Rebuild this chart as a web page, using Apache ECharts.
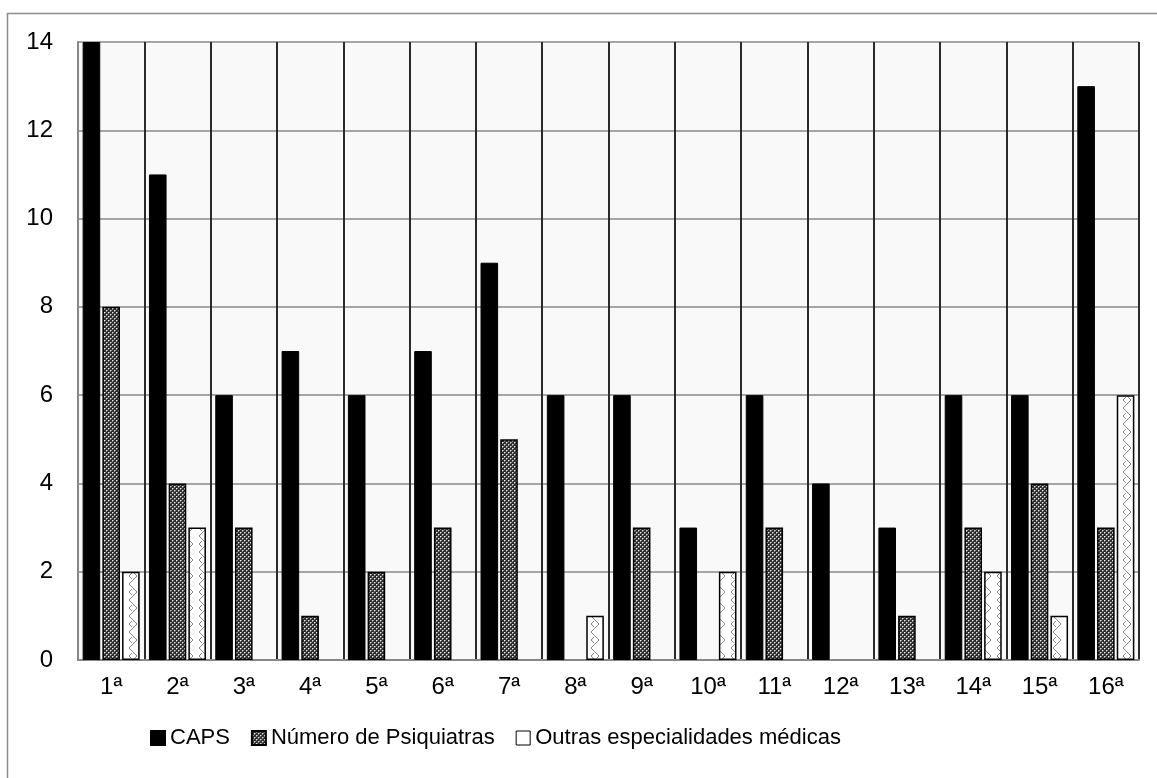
<!DOCTYPE html>
<html>
<head>
<meta charset="utf-8">
<script src="https://cdn.jsdelivr.net/npm/echarts@6/dist/echarts.min.js"></script>
<style>
html,body{margin:0;padding:0;background:#fff;}
#chart{width:1157px;height:778px;}
</style>
</head>
<body>
<div id="chart"></div>
<script>
const categories = ['1ª','2ª','3ª','4ª','5ª','6ª','7ª','8ª','9ª','10ª','11ª','12ª','13ª','14ª','15ª','16ª'];
const seriesNames = ['CAPS','Número de Psiquiatras','Outras especialidades médicas'];
const caps = [14, 11, 6, 7, 6, 7, 9, 6, 6, 3, 6, 4, 3, 6, 6, 13];
const psiquiatras = [8, 4, 3, 1, 2, 3, 5, 0, 3, 0, 3, 0, 1, 3, 4, 3];
const outras = [2, 3, 0, 0, 0, 0, 0, 1, 0, 2, 0, 0, 0, 2, 1, 6];
const yTicks = [0, 2, 4, 6, 8, 10, 12, 14];

function makeCheck() {
  const c = document.createElement('canvas');
  c.width = 4; c.height = 4;
  const g = c.getContext('2d');
  g.fillStyle = '#2e2e2e';
  g.fillRect(0, 0, 4, 4);
  g.fillStyle = '#e8e8e8';
  g.fillRect(0, 0, 1, 1);
  g.fillRect(2, 2, 1, 1);
  g.fillStyle = '#8a8a8a';
  g.fillRect(1, 0, 1, 1);
  g.fillRect(0, 1, 1, 1);
  g.fillRect(3, 2, 1, 1);
  g.fillRect(2, 3, 1, 1);
  return c;
}
function makeHatch() {
  const c = document.createElement('canvas');
  c.width = 14; c.height = 16;
  const g = c.getContext('2d');
  g.fillStyle = '#ffffff';
  g.fillRect(0, 0, 14, 16);
  g.strokeStyle = '#8a8a8a';
  g.lineWidth = 1;
  g.beginPath();
  g.moveTo(11, 0); g.lineTo(3, 8); g.lineTo(11, 16);
  g.moveTo(3, 0); g.lineTo(6, 3);
  g.moveTo(3, 16); g.lineTo(6, 13);
  g.stroke();
  return c;
}
const checkPattern = { image: makeCheck(), repeat: 'repeat' };
const hatchPattern = { image: makeHatch(), repeat: 'repeat' };

const toBar = arr => arr.map(v => v === 0 ? '-' : v);

const chart = echarts.init(document.getElementById('chart'));
const font = 'Liberation Sans, Arial, sans-serif';
chart.setOption({
  animation: false,
  backgroundColor: '#ffffff',
  textStyle: { fontFamily: font },
  graphic: [{
    type: 'rect',
    shape: { x: 7.5, y: 13.5, width: 1200, height: 800 },
    style: { fill: 'none', stroke: '#8c8c8c', lineWidth: 1.5 },
    silent: true, z: -10
  }],
  grid: {
    left: 78, right: 18, top: 42, bottom: 118,
    show: true, backgroundColor: '#f9f9f9', borderWidth: 0
  },
  legend: {
    bottom: 24,
    left: 145,
    itemWidth: 14, itemHeight: 14,
    itemGap: 21,
    textStyle: { fontSize: 22, color: '#000', fontFamily: font },
    data: [
      { name: seriesNames[0], icon: 'rect' },
      { name: seriesNames[1], icon: 'rect' },
      { name: seriesNames[2], icon: 'rect', itemStyle: { color: '#fff', borderColor: '#000', borderWidth: 1 } }
    ]
  },
  xAxis: {
    type: 'category',
    data: categories,
    axisLine: { show: true, lineStyle: { color: '#888', width: 2 } },
    axisTick: { show: false },
    axisLabel: { fontSize: 24, color: '#000', margin: 15, fontFamily: font, interval: 0 },
    splitLine: { show: true, interval: 0, lineStyle: { color: '#2b2b2b', width: 2 } }
  },
  yAxis: {
    type: 'value',
    min: 0, max: 14, interval: 2,
    axisLine: { show: true, lineStyle: { color: '#888', width: 2 } },
    axisTick: { show: false },
    axisLabel: { fontSize: 24, color: '#000', margin: 25, fontFamily: font,
      formatter: v => yTicks.includes(v) ? String(v) : '' },
    splitLine: { show: true, lineStyle: { color: '#888', width: 1.5 } }
  },
  series: [
    { name: seriesNames[0], type: 'bar', data: toBar(caps), barGap: '12%', barCategoryGap: '14%',
      itemStyle: { color: '#000', borderColor: '#000', borderWidth: 1 } },
    { name: seriesNames[1], type: 'bar', data: toBar(psiquiatras), barGap: '12%', barCategoryGap: '14%',
      itemStyle: { color: checkPattern, borderColor: '#000', borderWidth: 1.5 } },
    { name: seriesNames[2], type: 'bar', data: toBar(outras), barGap: '12%', barCategoryGap: '14%',
      itemStyle: { color: hatchPattern, borderColor: '#000', borderWidth: 1.5 } }
  ]
});
</script>
</body>
</html>
